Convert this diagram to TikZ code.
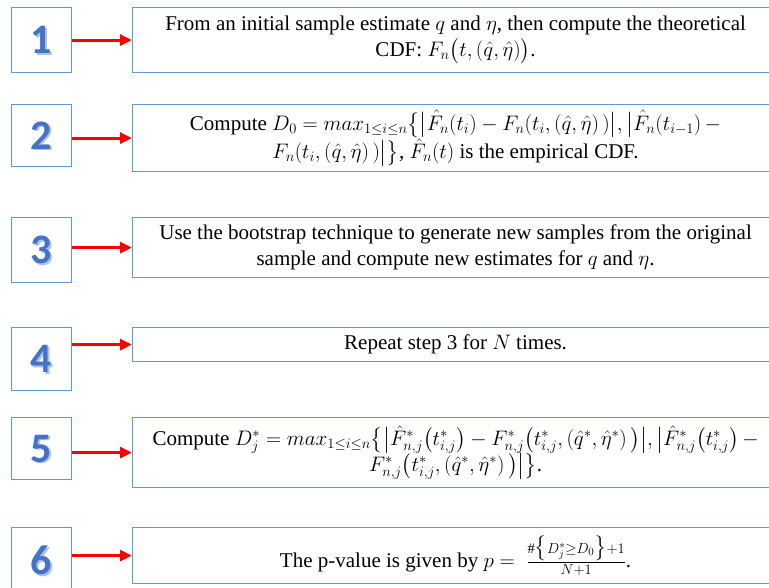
\RequirePackage{fix-cm}
\documentclass[tikz,border=0pt]{standalone}
\usepackage{amsmath,amssymb}
\usepackage{fontspec}
\setmainfont{Liberation Serif}
\newfontfamily\digitfont{Carlito}
\DeclareMathSizes{21}{21}{14.5}{11}
\usetikzlibrary{arrows.meta}
\definecolor{boxblue}{HTML}{5B9BD5}
\definecolor{digitblue}{HTML}{4472C4}
\definecolor{shadeblue}{HTML}{A9C4EA}
\tikzset{
  numbox/.style={draw=boxblue,line width=1.2pt,minimum width=60pt,anchor=north west,inner sep=0pt},
  textbox/.style={draw=boxblue,line width=1.2pt,minimum width=646pt,text width=640pt,align=flush center,anchor=north west,inner sep=0pt,font=\fontsize{21}{26}\selectfont},
  arr/.style={red,line width=3pt,-{Triangle[length=12pt,width=11pt]}},
  digit/.style={font=\digitfont\bfseries\fontsize{42}{42}\selectfont,text=digitblue},
  digitshade/.style={font=\digitfont\bfseries\fontsize{42}{42}\selectfont,text=shadeblue}
}
\newcommand{\stepdigit}[2]{%
  \node[digitshade] at ([shift={(1.6pt,-1.6pt)}]#1.center) {#2};
  \node[digit] at (#1.center) {#2};}

\begin{document}
\begin{tikzpicture}[x=1pt,y=1pt]
  \useasboundingbox[fill=white] (0,0) rectangle (769,-588);

  \node[numbox,minimum height=65pt] (n1) at (11,-7) {};
  \node[numbox,minimum height=62pt] (n2) at (11,-104) {};
  \node[numbox,minimum height=65pt] (n3) at (11,-217) {};
  \node[numbox,minimum height=63pt] (n4) at (11,-327) {};
  \node[numbox,minimum height=62pt] (n5) at (11,-417) {};
  \node[numbox,minimum height=66pt] (n6) at (11,-527) {};
  \stepdigit{n1}{1}
  \stepdigit{n2}{2}
  \stepdigit{n3}{3}
  \stepdigit{n4}{4}
  \stepdigit{n5}{5}
  \stepdigit{n6}{6}

  \node[textbox,minimum height=65pt] (t1) at (132,-7)
    {From an initial sample estimate $q$ and $\eta$, then compute the theoretical\\
     CDF: $F_n\bigl(t,(\hat{q},\hat{\eta})\bigr)$.};
  \node[textbox,minimum height=67pt] (t2) at (132,-104)
    {Compute $D_0 = max_{1\le i\le n}\bigl\{\bigl|\hat{F}_n(t_i)-F_n(t_i,(\hat{q},\hat{\eta})\,)\bigr|,\bigl|\hat{F}_n(t_{i-1})\,-$\\
     $F_n(t_i,(\hat{q},\hat{\eta})\,)\bigr|\bigr\}$, $\hat{F}_n(t)$ is the empirical CDF.};
  \node[textbox,minimum height=60pt] (t3) at (132,-217)
    {Use the bootstrap technique to generate new samples from the original\\
     sample and compute new estimates for $q$ and $\eta$.};
  \node[textbox,minimum height=34pt] (t4) at (132,-327)
    {Repeat step 3 for $N$ times.};
  \node[textbox,minimum height=70pt] (t5) at (132,-417)
    {Compute $D_j^* = max_{1\le i\le n}\bigl\{\bigl|\hat{F}^*_{n,j}\bigl(t^*_{i,j}\bigr)-F^*_{n,j}\bigl(t^*_{i,j},(\hat{q}^*,\hat{\eta}^*)\,\bigr)\bigr|,\bigl|\hat{F}^*_{n,j}\bigl(t^*_{i,j}\bigr)\,-$\\
     $F^*_{n,j}\bigl(t^*_{i,j},(\hat{q}^*,\hat{\eta}^*)\,\bigr)\bigr|\bigr\}$.};
  \node[textbox,minimum height=56pt] (t6) at (132,-527)
    {The p-value is given by $p=\;\frac{\#\bigl\{D_j^*\ge D_0\bigr\}+1}{N+1}$.};

  \foreach \i in {1,...,6}
    \draw[arr] (t\i.west -| n\i.east) -- (t\i.west);
\end{tikzpicture}
\end{document}
